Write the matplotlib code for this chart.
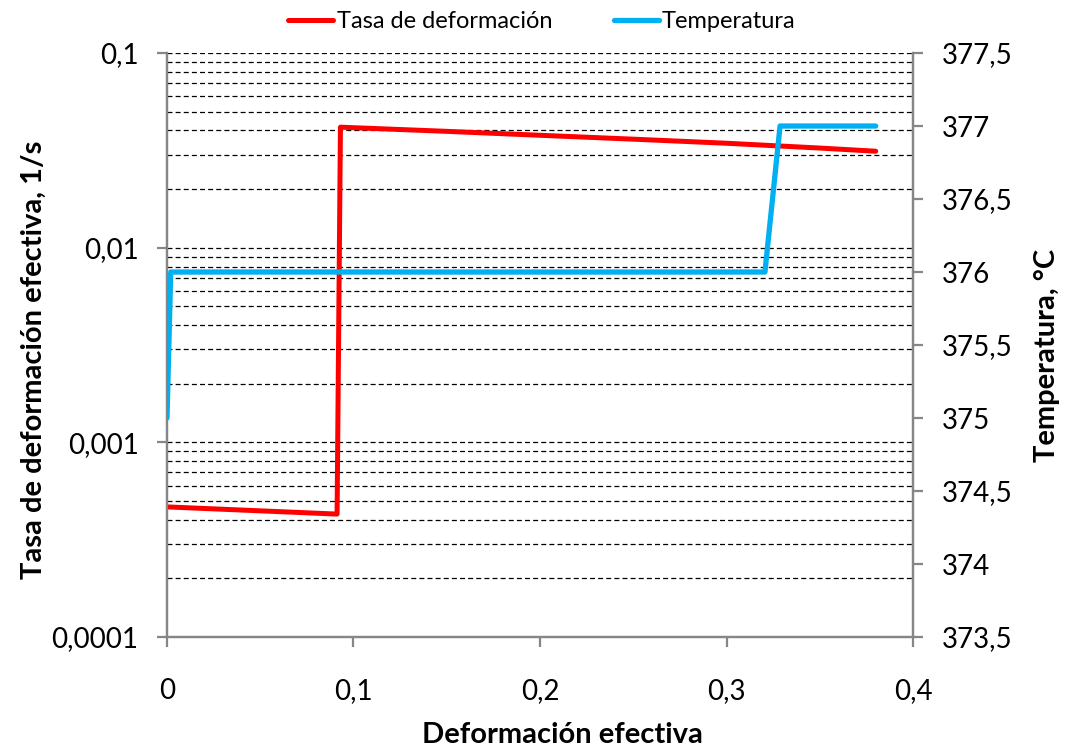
import matplotlib
matplotlib.use("Agg")
import matplotlib.pyplot as plt
import matplotlib as mpl
from matplotlib.ticker import LogLocator, NullFormatter

mpl.rcParams['font.family'] = ['Lato', 'DejaVu Sans']

# strain rate series (red)
rate_x = [0.0, 0.0912, 0.0930, 0.15, 0.20, 0.25, 0.30, 0.35, 0.38]
rate_y = [4.66e-4, 4.28e-4, 0.0416, 0.0396, 0.0378, 0.0361, 0.0344, 0.0325, 0.0313]

# temperature series (blue)
temp_x = [0.0, 0.002, 0.3206, 0.3287, 0.38]
temp_y = [375.0, 376.0, 376.0, 377.0, 377.0]

x_ticks = [0, 0.1, 0.2, 0.3, 0.4]
x_labels = ["0", "0,1", "0,2", "0,3", "0,4"]
y_ticks = [1e-4, 1e-3, 1e-2, 1e-1]
y_labels = ["0,0001", "0,001", "0,01", "0,1"]
t_ticks = [373.5, 374, 374.5, 375, 375.5, 376, 376.5, 377, 377.5]
t_labels = ["373,5", "374", "374,5", "375", "375,5", "376", "376,5", "377", "377,5"]

red = "#ff0000"
blue = "#00b0f0"
gray = "#868686"

fig = plt.figure(figsize=(10.67, 7.48), dpi=100)
ax = fig.add_axes([0.1565, 0.1484, 0.6992, 0.7807])
ax2 = ax.twinx()

ax.set_yscale("log")
ax.set_ylim(1e-4, 0.1)
ax.set_xlim(0, 0.4)
ax2.set_ylim(373.5, 377.5)

# dashed grid on every log line
ax.yaxis.set_minor_locator(LogLocator(base=10, subs=range(2, 10)))
ax.yaxis.set_minor_formatter(NullFormatter())
ax.grid(True, which="both", axis="y", color="black", linestyle=(0, (4, 2.5)), linewidth=0.9)
ax.set_axisbelow(True)

l1, = ax.plot(rate_x, rate_y, color=red, linewidth=3.6, solid_capstyle="round",
              solid_joinstyle="round", label="Tasa de deformación", zorder=3)
l2, = ax2.plot(temp_x, temp_y, color=blue, linewidth=3.8, solid_capstyle="round",
               solid_joinstyle="round", label="Temperatura", zorder=3)

ax.set_xticks(x_ticks)
ax.set_xticklabels(x_labels)
ax.set_yticks(y_ticks)
ax.set_yticklabels(y_labels)
ax2.set_yticks(t_ticks)
ax2.set_yticklabels(t_labels)

for a in (ax, ax2):
    for s in a.spines.values():
        s.set_color(gray)
        s.set_linewidth(1.6)
    a.spines["top"].set_visible(False)
    a.tick_params(which="major", direction="out", length=7.5, width=1.6, color=gray,
                  labelsize=20, pad=13)
    a.tick_params(which="minor", length=0)
ax.tick_params(axis="x", pad=22)

ax.set_xlabel("Deformación efectiva", fontsize=21, fontweight="bold", va="center")
ax.xaxis.set_label_coords(0.53, -0.167)
ax.set_ylabel("Tasa de deformación efectiva, 1/s", fontsize=21, fontweight="bold", va="center")
ax.yaxis.set_label_coords(-0.179, 0.474)
ax2.set_ylabel("Temperatura, °C", fontsize=21, fontweight="bold", va="center")
ax2.yaxis.set_label_coords(1.18, 0.483)

fig.legend(handles=[l1, l2], loc="center", bbox_to_anchor=(0.508, 0.971), ncol=2,
           frameon=False, fontsize=17, handlelength=1.9, handletextpad=0.15,
           columnspacing=2.6, borderaxespad=0)

plt.savefig("out.png", dpi=100)
